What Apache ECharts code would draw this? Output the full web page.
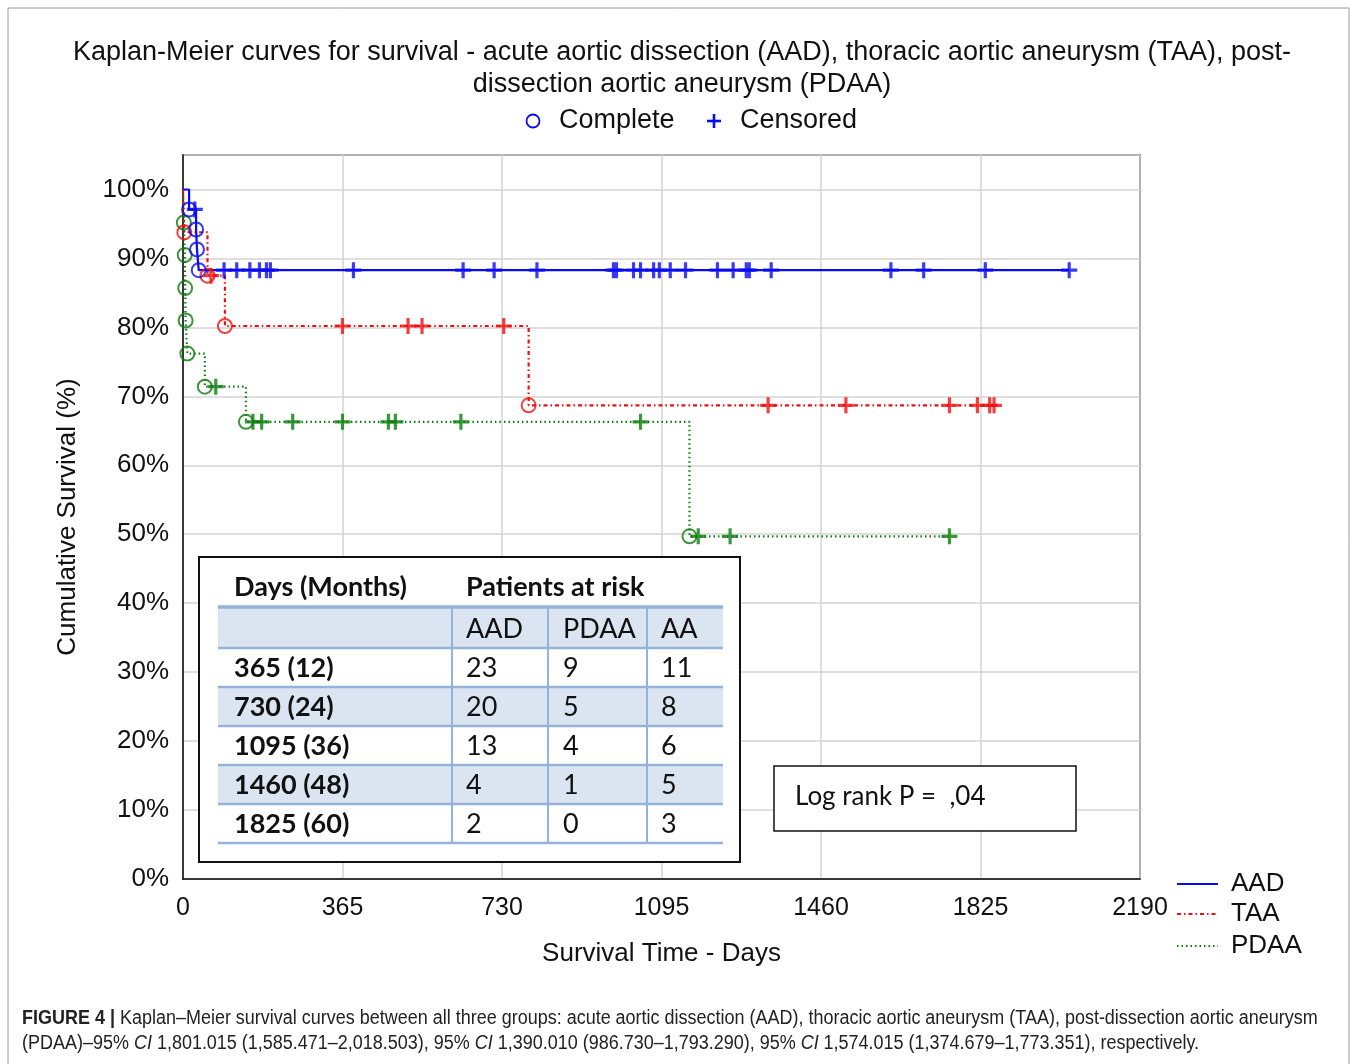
<!DOCTYPE html>
<html><head><meta charset="utf-8">
<script src="https://cdn.jsdelivr.net/npm/echarts@6/dist/echarts.min.js"></script>
<style>html,body{margin:0;padding:0;background:#fff}#c{width:1357px;height:1064px}</style>
</head><body><div id="c"></div>
<script>
// ---- data ----
const xTicks = [0, 365, 730, 1095, 1460, 1825, 2190];
const aadEventDays = [14, 30, 32, 36];
const aadEventSurv = [97.1, 94.2, 91.3, 88.3];
const aadCensorDays = [27, 94, 123, 153, 175, 191, 200, 390, 641, 712, 810, 985, 992, 1031, 1047, 1077, 1090, 1115, 1150, 1223, 1259, 1289, 1296, 1346, 1620, 1695, 1836, 2028];
const taaEventDays = [3, 56, 96, 791];
const taaEventSurv = [93.8, 87.5, 80.2, 68.7];
const taaCensorDays = [64, 365, 515, 547, 734, 1339, 1517, 1754, 1818, 1846, 1856];
const pdaaEventDays = [2, 4, 5, 6, 10, 50, 144, 1159];
const pdaaEventSurv = [95.2, 90.5, 85.7, 81.0, 76.2, 71.4, 66.3, 49.7];
const pdaaCensorDays = [75, 160, 180, 251, 365, 470, 486, 636, 1047, 1179, 1252, 1754];
const tableHead = ['AAD', 'PDAA', 'AA'];
const tableRowLabels = ['365 (12)', '730 (24)', '1095 (36)', '1460 (48)', '1825 (60)'];
const riskAAD = [23, 20, 13, 4, 2];
const riskPDAA = [9, 5, 4, 1, 0];
const riskAA = [11, 8, 6, 5, 3];

const C_AAD = '#0a0aee', C_TAA = '#ee1010', C_PDAA = '#0b7d0b';

function survAt(days, surv, t) {
  let s = 100;
  for (let i = 0; i < days.length; i++) if (days[i] <= t) s = surv[i];
  return s;
}
function stepData(days, surv, cens) {
  const d = [[0, 100]];
  days.forEach((t, i) => d.push([t, surv[i]]));
  const last = Math.max(cens[cens.length - 1], days[days.length - 1]);
  d.push([last, survAt(days, surv, last)]);
  return d;
}
function eventPts(days, surv) { return days.map((t, i) => [t, surv[i]]); }
function censPts(days, surv, cens) { return cens.map(t => [t, survAt(days, surv, t)]); }

const PLUS = 'path://M4,0H6V4H10V6H6V10H4V6H0V4H4Z';
const FONT = 'Liberation Sans, Arial, sans-serif';
const TFONT = 'Lato, Carlito, sans-serif';
const CFONT = '"Liberation Sans Narrow", "Arial Narrow", "Liberation Sans", Arial, sans-serif';

function lineSeries(name, color, type, days, surv, cens) {
  return [{
    name, type: 'line', step: 'end', symbol: 'none', z: 3,
    data: stepData(days, surv, cens),
    lineStyle: { color, width: 2.2, type }
  }, {
    type: 'scatter', symbol: 'circle', symbolSize: 14, z: 5,
    itemStyle: { color: 'rgba(255,255,255,0)', borderColor: color, borderWidth: 2 },
    data: eventPts(days, surv)
  }, {
    type: 'scatter', symbol: PLUS, symbolSize: 16, z: 6,
    itemStyle: { color },
    data: censPts(days, surv, cens)
  }];
}

const chart = echarts.init(document.getElementById('c'), null, { renderer: 'canvas' });

// table graphic
const tbl = [];
const tx0 = 218, tx1 = 723, colX = [452, 548, 647], rowY = [648, 687, 726, 765, 804, 843];
const LB = '#95b3d7', FILL = '#dbe5f1';
tbl.push({ type: 'rect', shape: { x: 199, y: 557, width: 541, height: 305 }, style: { fill: '#fff', stroke: '#111', lineWidth: 2 }, z: 10 });
tbl.push({ type: 'rect', shape: { x: tx0, y: 608, width: tx1 - tx0, height: 40 }, style: { fill: FILL }, z: 11 });
[1, 3].forEach(i => tbl.push({ type: 'rect', shape: { x: tx0, y: rowY[i], width: tx1 - tx0, height: 39 }, style: { fill: FILL }, z: 11 }));
tbl.push({ type: 'line', shape: { x1: tx0, y1: 607, x2: tx1, y2: 607 }, style: { stroke: LB, lineWidth: 3.5 }, z: 12 });
rowY.forEach(y => tbl.push({ type: 'line', shape: { x1: tx0, y1: y, x2: tx1, y2: y }, style: { stroke: LB, lineWidth: 2.5 }, z: 12 }));
colX.forEach(x => tbl.push({ type: 'line', shape: { x1: x, y1: 608, x2: x, y2: 843 }, style: { stroke: LB, lineWidth: 2 }, z: 12 }));
const tstyle = (text, x, y, bold) => ({ type: 'text', z: 13, style: { text, x, y, font: (bold ? 'bold ' : '') + '27px ' + TFONT, fill: '#111', align: 'left', verticalAlign: 'middle' } });
tbl.push(tstyle('Days (Months)', 234, 587, true));
tbl.push(tstyle('Patients at risk', 466, 587, true));
const valX = [466, 563, 661];
tableHead.forEach((h, j) => tbl.push(tstyle(h, valX[j], 629, false)));
tableRowLabels.forEach((r, i) => {
  const y = rowY[i] + 20;
  tbl.push(tstyle(r, 234, y, true));
  tbl.push(tstyle(String(riskAAD[i]), valX[0], y, false));
  tbl.push(tstyle(String(riskPDAA[i]), valX[1], y, false));
  tbl.push(tstyle(String(riskAA[i]), valX[2], y, false));
});
// log rank box
tbl.push({ type: 'rect', shape: { x: 774, y: 766, width: 302, height: 65 }, style: { fill: '#fff', stroke: '#111', lineWidth: 1.5 }, z: 10 });
tbl.push({ type: 'text', z: 13, style: { text: 'Log rank P =  ,04', x: 795, y: 797, font: '26px ' + TFONT, fill: '#111', align: 'left', verticalAlign: 'middle' } });

const graphics = [
  { type: 'rect', shape: { x: 8, y: 8, width: 1341, height: 1100 }, style: { fill: 'none', stroke: '#9a9a9a', lineWidth: 1 }, z: 0 },
  { type: 'text', style: { text: 'Kaplan-Meier curves for survival - acute aortic dissection (AAD), thoracic aortic aneurysm (TAA), post-', x: 682, y: 53, font: '27px ' + FONT, fill: '#111', align: 'center', verticalAlign: 'middle' } },
  { type: 'text', style: { text: 'dissection aortic aneurysm (PDAA)', x: 682, y: 85, font: '27px ' + FONT, fill: '#111', align: 'center', verticalAlign: 'middle' } },
  { type: 'circle', shape: { cx: 533, cy: 121, r: 6.5 }, style: { fill: 'none', stroke: C_AAD, lineWidth: 1.8 } },
  { type: 'text', style: { text: 'Complete', x: 559, y: 121, font: '27px ' + FONT, fill: '#111', align: 'left', verticalAlign: 'middle' } },
  { type: 'line', shape: { x1: 707, y1: 121, x2: 721, y2: 121 }, style: { stroke: C_AAD, lineWidth: 2.6 } },
  { type: 'line', shape: { x1: 714, y1: 114, x2: 714, y2: 128 }, style: { stroke: C_AAD, lineWidth: 2.6 } },
  { type: 'text', style: { text: 'Censored', x: 740, y: 121, font: '27px ' + FONT, fill: '#111', align: 'left', verticalAlign: 'middle' } },
  // right legend
  { type: 'line', shape: { x1: 1177, y1: 884, x2: 1218, y2: 884 }, style: { stroke: C_AAD, lineWidth: 2 } },
  { type: 'text', style: { text: 'AAD', x: 1231, y: 884, font: '26px ' + FONT, fill: '#111', align: 'left', verticalAlign: 'middle' } },
  { type: 'line', shape: { x1: 1177, y1: 914, x2: 1218, y2: 914 }, style: { stroke: C_TAA, lineWidth: 2, lineDash: [4, 3, 1.5, 3] } },
  { type: 'text', style: { text: 'TAA', x: 1231, y: 914, font: '26px ' + FONT, fill: '#111', align: 'left', verticalAlign: 'middle' } },
  { type: 'line', shape: { x1: 1177, y1: 946, x2: 1218, y2: 946 }, style: { stroke: C_PDAA, lineWidth: 2, lineDash: [1.5, 3] } },
  { type: 'text', style: { text: 'PDAA', x: 1231, y: 946, font: '26px ' + FONT, fill: '#111', align: 'left', verticalAlign: 'middle' } },
  // caption
  { type: 'text', x: 22, y: 1019, scaleX: 0.922, style: { text: '{b|FIGURE 4 |} Kaplan–Meier survival curves between all three groups: acute aortic dissection (AAD), thoracic aortic aneurysm (TAA), post-dissection aortic aneurysm', x: 0, y: 0, fontSize: 19.5, fontFamily: CFONT, fill: '#222', align: 'left', verticalAlign: 'middle', rich: { b: { fontWeight: 'bold', fontSize: 19.5, fontFamily: CFONT, fill: '#222' } } } },
  { type: 'text', x: 22, y: 1044, scaleX: 0.922, style: { text: '(PDAA)–95% {i|CI} 1,801.015 (1,585.471–2,018.503), 95% {i|CI} 1,390.010 (986.730–1,793.290), 95% {i|CI} 1,574.015 (1,374.679–1,773.351), respectively.', x: 0, y: 0, fontSize: 19.5, fontFamily: CFONT, fill: '#222', align: 'left', verticalAlign: 'middle', rich: { i: { fontStyle: 'italic', fontSize: 19.5, fontFamily: CFONT, fill: '#222' } } } }
].concat(tbl);

chart.setOption({
  animation: false,
  backgroundColor: '#fff',
  grid: { left: 183, top: 155, right: 217, bottom: 185, show: true, borderColor: '#111', borderWidth: 1.5, backgroundColor: 'transparent' },
  xAxis: {
    type: 'value', min: 0, max: 2190, interval: 365,
    name: 'Survival Time - Days', nameLocation: 'middle', nameGap: 62,
    nameTextStyle: { fontSize: 26, fontFamily: FONT, color: '#111' },
    axisLine: { show: true, lineStyle: { color: '#111', width: 1.5 } },
    axisTick: { show: false },
    axisLabel: { fontSize: 25, fontFamily: FONT, color: '#111', margin: 17, formatter: v => String(v) },
    splitLine: { show: true, lineStyle: { color: '#d4d4d4', width: 1.5 } }
  },
  yAxis: {
    type: 'value', min: 0, max: 105, interval: 10,
    name: 'Cumulative Survival (%)', nameLocation: 'middle', nameGap: 102, nameRotate: 90,
    nameTextStyle: { fontSize: 26, fontFamily: FONT, color: '#111' },
    axisLine: { show: true, lineStyle: { color: '#111', width: 1.5 } },
    axisTick: { show: false },
    axisLabel: { fontSize: 26, fontFamily: FONT, color: '#111', margin: 14, formatter: v => v > 100 ? '' : v + '%' },
    splitLine: { show: true, lineStyle: { color: '#d4d4d4', width: 1.5 } }
  },
  series: [].concat(
    lineSeries('PDAA', C_PDAA, [1.5, 3], pdaaEventDays, pdaaEventSurv, pdaaCensorDays),
    lineSeries('TAA', C_TAA, [4, 3, 1.5, 3], taaEventDays, taaEventSurv, taaCensorDays),
    lineSeries('AAD', C_AAD, 'solid', aadEventDays, aadEventSurv, aadCensorDays)
  ),
  graphic: graphics
});
</script></body></html>
